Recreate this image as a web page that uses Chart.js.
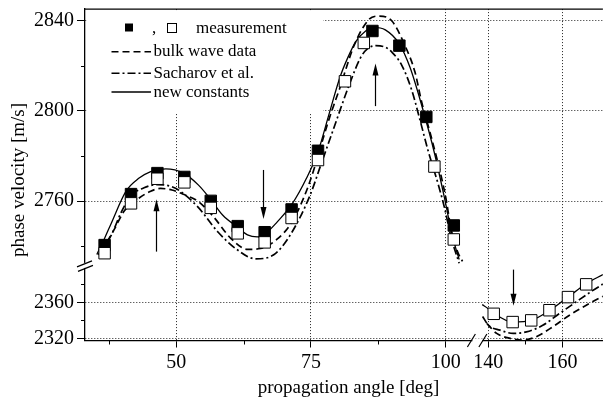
<!DOCTYPE html>
<html><head><meta charset="utf-8">
<script src="https://cdn.jsdelivr.net/npm/chart.js@4.4.1/dist/chart.umd.min.js"></script>
<style>html,body{margin:0;padding:0;overflow:hidden;background:#fff}canvas{display:block}</style>
</head><body>
<canvas id="c" width="612" height="405"></canvas>
<script>
// ---------- data ----------
const xTicksLeft = [50, 75, 100];
const xTicksRight = [140, 160];
const yTicksUpper = [2760, 2800, 2840];
const yTicksLower = [2320, 2360];
const xMinorLeft = [37.5, 62.5, 87.5];
const xMinorRight = [150];
const yMinorUpper = [2740, 2780, 2820];
const yMinorLower = [2340, 2380];

// measurement, filled squares (upper branch)
const filledX = [36.7, 41.6, 46.5, 51.5, 56.4, 61.4, 66.4, 71.4, 76.3, 86.4, 91.4, 96.4, 101.5];
const filledY = [2740.5, 2763.1, 2772.4, 2770.7, 2760.1, 2748.9, 2746.2, 2756.3, 2782.3, 2835.4, 2828.9, 2797.3, 2749.2];
// measurement, open squares (upper branch)
const openX = [36.7, 41.6, 46.5, 51.5, 56.4, 61.4, 66.4, 71.4, 76.3, 81.3, 84.8, 97.9, 101.5];
const openY = [2736.9, 2759.0, 2769.9, 2768.3, 2757.0, 2745.7, 2741.7, 2752.5, 2778.2, 2813.1, 2830.1, 2775.3, 2743.0];
// measurement, open squares (lower branch)
const openLowX = [141.5, 146.6, 151.6, 156.5, 161.5, 166.4];
const openLowY = [2347.3, 2338.1, 2340.0, 2351.3, 2365.9, 2380.1];

// new constants (solid)
const solidX = [35.25, 36.66, 37.94, 40.68, 43.11, 45.25, 48.04, 51.33, 54.08, 56.4, 58.64, 61.44, 63.21, 65.04, 66.87, 68.7, 71.44, 74.18, 76.32, 78.44, 80.39, 81.85, 83.31, 85.14, 86.6, 88.79, 91.35, 93.37, 95.5, 97.93, 99.76, 101.28, 102.5];
const solidY = [2736.3, 2743.3, 2750.2, 2764.4, 2770.2, 2773.1, 2774.3, 2772.4, 2767.2, 2760.7, 2753.7, 2748.3, 2745.0, 2744.1, 2746.3, 2750.7, 2758.5, 2770.2, 2782.0, 2799.3, 2815.0, 2823.7, 2830.7, 2835.4, 2837.0, 2835.9, 2829.8, 2819.3, 2802.8, 2781.1, 2761.5, 2744.1, 2734.1];
const solidLowX = [138.4, 140.1, 141.5, 146.6, 151.6, 156.5, 161.6, 166.4, 170.9];
const solidLowY = [2357.5, 2352.8, 2348.0, 2338.1, 2340.0, 2350.9, 2366.2, 2380.8, 2391.0];

// bulk wave data (dashed)
const bulkX = [36.11, 38.54, 40.37, 42.8, 45.25, 47.08, 49.2, 51.33, 54.08, 56.82, 60.16, 63.21, 65.64, 68.7, 71.44, 74.49, 78.44, 80.26, 83.0, 85.75, 87.57, 90.02, 92.45, 94.28, 95.5, 97.33, 99.16, 100.07, 100.99, 102.19, 103.11];
const bulkY = [2737.6, 2747.7, 2755.7, 2760.8, 2764.4, 2765.6, 2764.9, 2763.0, 2759.8, 2753.3, 2743.4, 2738.6, 2739.0, 2743.1, 2750.7, 2766.6, 2797.0, 2809.5, 2829.0, 2840.5, 2842.0, 2839.8, 2828.9, 2817.3, 2804.3, 2788.3, 2771.0, 2760.8, 2747.7, 2737.6, 2733.3];
const bulkLowX = [139.7, 142.3, 145.9, 149.4, 152.9, 157.35, 161.8, 166.2, 170.9];
const bulkLowY = [2336.4, 2325.5, 2320.0, 2318.1, 2321.7, 2332.7, 2345.5, 2356.4, 2366.8];

// Sacharov et al. (dash-dot)
const sachX = [35.49, 37.94, 39.77, 41.59, 44.02, 46.45, 48.9, 50.73, 54.08, 57.73, 61.39, 64.73, 68.09, 71.13, 74.78, 76.92, 79.06, 82.09, 84.23, 85.51, 87.06, 88.8, 90.02, 91.85, 93.68, 95.19, 96.71, 98.54, 99.76, 100.99, 102.5];
const sachY = [2736.2, 2744.9, 2755.0, 2762.4, 2765.9, 2767.3, 2766.6, 2764.4, 2757.2, 2746.3, 2738.3, 2734.4, 2736.2, 2744.9, 2762.3, 2776.7, 2791.2, 2811.5, 2823.7, 2827.6, 2828.9, 2828.2, 2826.0, 2820.2, 2809.3, 2796.3, 2782.5, 2768.0, 2757.2, 2744.1, 2732.4];
const sachLowX = [138.5, 140.1, 143.2, 146.75, 150.3, 154.7, 159.1, 163.5, 168.0, 170.9];
const sachLowY = [2344.4, 2334.5, 2329.1, 2325.5, 2327.2, 2334.5, 2347.3, 2360.0, 2372.8, 2380.4];

// arrows (angle, from, to)
const arrowUpX = [46.16, 66.08, 86.97];
const arrowUpFrom = [2737.6, 2773.8, 2802.1];
const arrowUpTo = [2760.8, 2752.1, 2821.0];
const arrowLowX = [146.57];
const arrowLowFrom = [2396.5];
const arrowLowTo = [2356.4];

const labels = ['measurement', 'bulk wave data', 'Sacharov et al.', 'new constants'];
const xTitle = 'propagation angle [deg]';
const yTitle = 'phase velocity [m/s]';

// ---------- chart ----------
const FONT = 'Liberation Serif';
const pts = (xs, ys) => xs.map((x, i) => ({x, y: ys[i]}));
const DASH = [7, 4];
const DASHDOT = [8, 3, 2, 3];

function curve(label, xs, ys, xa, ya, dash, w) {
  return {label, data: pts(xs, ys), xAxisID: xa, yAxisID: ya, showLine: true,
    borderColor: '#000', borderWidth: w, borderDash: dash, pointRadius: 0,
    cubicInterpolationMode: 'monotone', fill: false};
}
function marks(label, xs, ys, xa, ya, fillC) {
  return {label, data: pts(xs, ys), xAxisID: xa, yAxisID: ya, showLine: false,
    pointStyle: 'rect', pointRadius: 8.1, pointBackgroundColor: fillC,
    pointBorderColor: '#000', pointBorderWidth: 1};
}

function scale(min, max, pos, stack, weight, ticks, tl, size) {
  return {
    type: 'linear', min, max, position: pos, stack, stackWeight: weight, offset: false,
    grid: {color: '#222', lineWidth: 1, tickColor: '#000', tickLength: tl, tickWidth: 1, drawOnChartArea: true},
    border: {color: '#000', width: 1.3, dash: [1, 2]},
    ticks: {color: '#000', font: {family: FONT, size: 20}, padding: 3, autoSkip: false, maxRotation: 0,
      callback: v => String(v)},
    afterBuildTicks: s => { s.ticks = ticks.map(v => ({value: v})); },
    afterFit: s => {
      if (s.isHorizontal()) s.height = size; else s.width = size;
      s.paddingTop = 0; s.paddingBottom = 0; s.paddingLeft = 0; s.paddingRight = 0;
    }
  };
}

const deco = {
  id: 'deco',
  afterDatasetsDraw(chart) {
    const ctx = chart.ctx, ca = chart.chartArea, S = chart.scales;
    ctx.save();
    // minor ticks
    ctx.strokeStyle = '#000'; ctx.lineWidth = 1;
    const minorX = (sc, vals) => vals.forEach(v => { const p = Math.round(sc.getPixelForValue(v)) + 0.5; ctx.beginPath(); ctx.moveTo(p, ca.bottom); ctx.lineTo(p, ca.bottom + 4); ctx.stroke(); });
    const minorY = (sc, vals) => vals.forEach(v => { const p = Math.round(sc.getPixelForValue(v)) + 0.5; ctx.beginPath(); ctx.moveTo(ca.left, p); ctx.lineTo(ca.left - 4, p); ctx.stroke(); });
    minorX(S.xL, xMinorLeft); minorX(S.xR, xMinorRight);
    minorY(S.yT, yMinorUpper); minorY(S.yB, yMinorLower);
    // top frame line
    ctx.lineWidth = 1.3;
    ctx.beginPath(); ctx.moveTo(ca.left, ca.top); ctx.lineTo(ca.right, ca.top); ctx.stroke();
    // arrows
    const arrow = (sx, sy, xv, y0, y1) => {
      const x = Math.round(sx.getPixelForValue(xv)) + 0.5;
      const p0 = sy.getPixelForValue(y0), p1 = sy.getPixelForValue(y1);
      const d = p1 > p0 ? 1 : -1;
      ctx.lineWidth = 1.2; ctx.fillStyle = '#000';
      ctx.beginPath(); ctx.moveTo(x, p0); ctx.lineTo(x, p1 - d * 8); ctx.stroke();
      ctx.beginPath(); ctx.moveTo(x, p1); ctx.lineTo(x - 3, p1 - d * 12); ctx.lineTo(x + 3, p1 - d * 12); ctx.closePath(); ctx.fill();
    };
    arrowUpX.forEach((v, i) => arrow(S.xL, S.yT, v, arrowUpFrom[i], arrowUpTo[i]));
    arrowLowX.forEach((v, i) => arrow(S.xR, S.yB, v, arrowLowFrom[i], arrowLowTo[i]));
    // axis breaks
    const yb = S.yT.bottom, xb = S.xL.right, L = ca.left, B = ca.bottom;
    ctx.fillStyle = '#fff';
    ctx.fillRect(L - 2, yb - 2.5, 4, 5);
    ctx.fillRect(xb - 3.5, B - 2, 10, 4);
    ctx.strokeStyle = '#000'; ctx.lineWidth = 1.2;
    ctx.beginPath();
    ctx.moveTo(L - 8, yb + 1.5); ctx.lineTo(L + 7, yb - 4.5);
    ctx.moveTo(L - 7, yb + 6); ctx.lineTo(L + 8, yb);
    ctx.moveTo(xb - 8.5, B + 6.5); ctx.lineTo(xb - 0.5, B - 6.5);
    ctx.moveTo(xb + 3, B + 6.5); ctx.lineTo(xb + 11, B - 6.5);
    ctx.stroke();
    // legend
    ctx.fillStyle = '#fff';
    ctx.fillRect(L + 1.5, ca.top + 1.5, 323 - L - 1.5, 113 - ca.top - 1.5);
    ctx.fillStyle = '#000'; ctx.strokeStyle = '#000';
    ctx.font = '17px "' + FONT + '"'; ctx.textBaseline = 'alphabetic'; ctx.textAlign = 'left';
    ctx.fillRect(125, 23.5, 8, 8);
    ctx.fillText(',', 152, 33);
    ctx.lineWidth = 1; ctx.strokeRect(167.5, 23.5, 9, 9);
    ctx.fillText(labels[0], 196, 33.3);
    const row = (y, dash, w, txt, base) => {
      ctx.save(); ctx.lineWidth = w; ctx.setLineDash(dash);
      ctx.beginPath(); ctx.moveTo(111.5, y); ctx.lineTo(151, y); ctx.stroke(); ctx.restore();
      ctx.fillText(txt, 153.5, base);
    };
    row(51.7, DASH, 1.6, labels[1], 55.7);
    row(73.3, DASHDOT, 1.6, labels[2], 77.5);
    row(92, [], 1.3, labels[3], 97);
    // axis titles
    ctx.font = '19px "' + FONT + '"'; ctx.textAlign = 'center';
    ctx.fillText(xTitle, 348.5, 393);
    ctx.save(); ctx.translate(24, 180); ctx.rotate(-Math.PI / 2); ctx.fillText(yTitle, 0, 0); ctx.restore();
    ctx.restore();
  }
};

new Chart(document.getElementById('c'), {
  type: 'scatter',
  data: {datasets: [
    marks(labels[0], openX, openY, 'xL', 'yT', '#fff'),
    marks(labels[0], openLowX, openLowY, 'xR', 'yB', '#fff'),
    marks(labels[0], filledX, filledY, 'xL', 'yT', '#000'),
    curve(labels[3], solidX, solidY, 'xL', 'yT', [], 1.3),
    curve(labels[3], solidLowX, solidLowY, 'xR', 'yB', [], 1.3),
    curve(labels[1], bulkX, bulkY, 'xL', 'yT', DASH, 1.7),
    curve(labels[1], bulkLowX, bulkLowY, 'xR', 'yB', DASH, 1.7),
    curve(labels[2], sachX, sachY, 'xL', 'yT', DASHDOT, 1.7),
    curve(labels[2], sachLowX, sachLowY, 'xR', 'yB', DASHDOT, 1.7)
  ]},
  options: {
    responsive: false, animation: false, devicePixelRatio: 1, events: [],
    layout: {padding: {top: 3, right: 1, left: 0, bottom: 0}},
    plugins: {legend: {display: false}, tooltip: {enabled: false}},
    scales: {
      xL: scale(33.06, 105.6, 'bottom', 'x', 397, xTicksLeft, 7, 64.5),
      xR: scale(136.7, 170.9, 'bottom', 'x', 129, xTicksRight, 7, 64.5),
      yB: scale(2317.6, 2401.2, 'left', 'y', 76.5, yTicksLower, 8, 85),
      yT: scale(2731.5, 2845.1, 'left', 'y', 261, yTicksUpper, 8, 85)
    }
  },
  plugins: [deco]
});
</script>
</body></html>
